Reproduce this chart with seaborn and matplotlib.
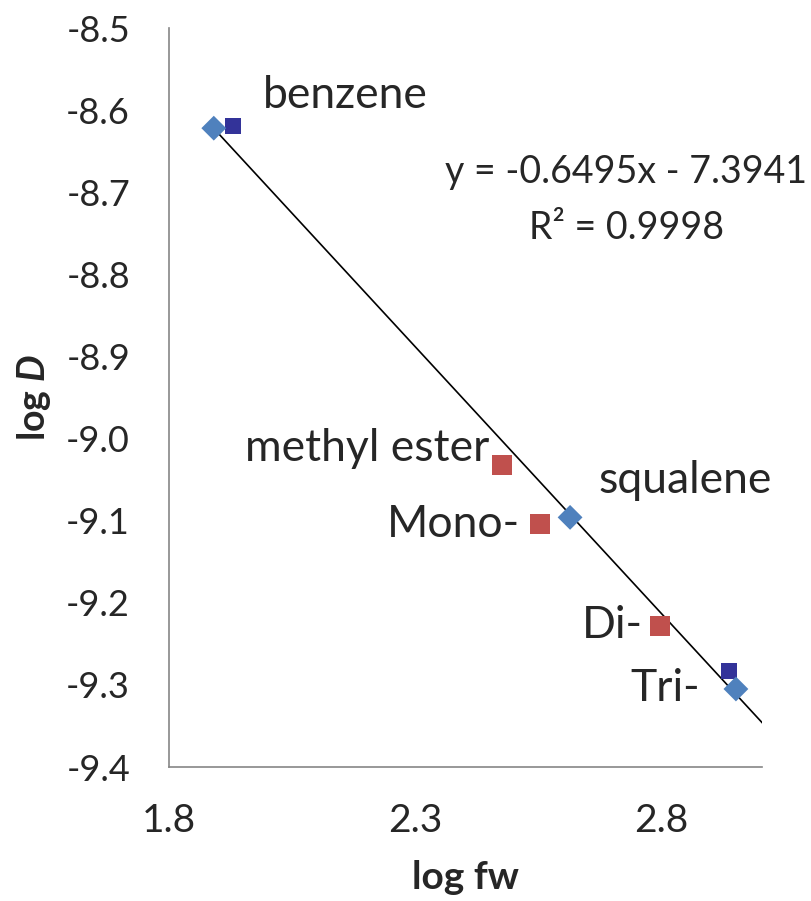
import matplotlib
matplotlib.use("Agg")
import matplotlib.pyplot as plt
import seaborn as sns
import numpy as np
import pandas as pd

# ---- data ----
diamond_x = [1.891, 2.615, 2.952]
diamond_y = [-8.622, -9.096, -9.305]
navy_x = [1.930, 2.938]
navy_y = [-8.619, -9.283]
red_x = [2.477, 2.554, 2.798]
red_y = [-9.032, -9.104, -9.228]
slope = -0.6495
intercept = -7.3941
eq_text = "y = -0.6495x - 7.3941"
r2_text = "R² = 0.9998"
labels = ["benzene", "methyl ester", "squalene", "Mono-", "Di-", "Tri-"]
xticks = [1.8, 2.3, 2.8]
yticks = [-8.5, -8.6, -8.7, -8.8, -8.9, -9.0, -9.1, -9.2, -9.3, -9.4]

sns.set_style("white")
plt.rcParams['font.family'] = ['Lato', 'DejaVu Sans']
plt.rcParams['mathtext.fontset'] = 'custom'
plt.rcParams['mathtext.rm'] = 'Lato'
plt.rcParams['mathtext.it'] = 'Lato:italic'
plt.rcParams['mathtext.bf'] = 'Lato:bold'
plt.rcParams['mathtext.bfit'] = 'Lato:bold:italic'

fig = plt.figure(figsize=(8.11, 9.01), dpi=100)
ax = fig.add_axes([169/811, 1-767/901, (762-169)/811, (767-28)/901])

df_d = pd.DataFrame({"x": diamond_x, "y": diamond_y})
df_n = pd.DataFrame({"x": navy_x, "y": navy_y})
df_r = pd.DataFrame({"x": red_x, "y": red_y})

# trendline
tx = np.array([min(diamond_x), 3.05])
ty = slope * tx + intercept
ax.plot(tx, ty, color="black", lw=1.2, zorder=1)

sns.scatterplot(data=df_d, x="x", y="y", marker="D", s=160, color="#4F81BD",
                edgecolor="none", ax=ax, zorder=3)
sns.scatterplot(data=df_n, x="x", y="y", marker="s", s=133, color="#333399",
                edgecolor="none", ax=ax, zorder=2)
sns.scatterplot(data=df_r, x="x", y="y", marker="s", s=207, color="#C0504D",
                edgecolor="none", ax=ax, zorder=3)

ax.set_xlim(1.8, 3.005)
ax.set_ylim(-9.4, -8.5)
ax.set_xticks(xticks)
ax.set_xticklabels([f"{v:.1f}" for v in xticks], fontsize=28)
ax.set_yticks(yticks)
ax.set_yticklabels([f"{v:.1f}" for v in yticks], fontsize=26)
ax.tick_params(axis='both', direction='out', length=9, width=1.2,
               color="#868686")
ax.tick_params(axis='y', pad=19)
ax.tick_params(axis='x', pad=17)
for s in ['top', 'right']:
    ax.spines[s].set_visible(False)
for s in ['left', 'bottom']:
    ax.spines[s].set_color("#868686")
    ax.spines[s].set_linewidth(1.2)

ax.set_xlabel("log fw", fontsize=28, fontweight="bold")
ax.set_ylabel(r"log $\mathbfit{D}$", fontsize=27, fontweight="bold")
ax.xaxis.set_label_coords(0.5, (767-860)/739)
ax.yaxis.set_label_coords((53-169)/593, 0.5)

fs = 32
ax.text(1.991, -8.582, labels[0], fontsize=fs, ha="left", va="center")
ax.text(2.452, -9.012, labels[1], fontsize=fs, ha="right", va="center")
ax.text(2.672, -9.051, labels[2], fontsize=fs, ha="left", va="center")
ax.text(2.513, -9.105, labels[3], fontsize=fs, ha="right", va="center")
ax.text(2.763, -9.228, labels[4], fontsize=fs, ha="right", va="center")
ax.text(2.879, -9.304, labels[5], fontsize=fs, ha="right", va="center")
ax.text(2.729, -8.675, eq_text, fontsize=27, ha="center", va="center")
ax.text(2.729, -8.744, r2_text, fontsize=27, ha="center", va="center")

fig.savefig("out.png", dpi=100)
